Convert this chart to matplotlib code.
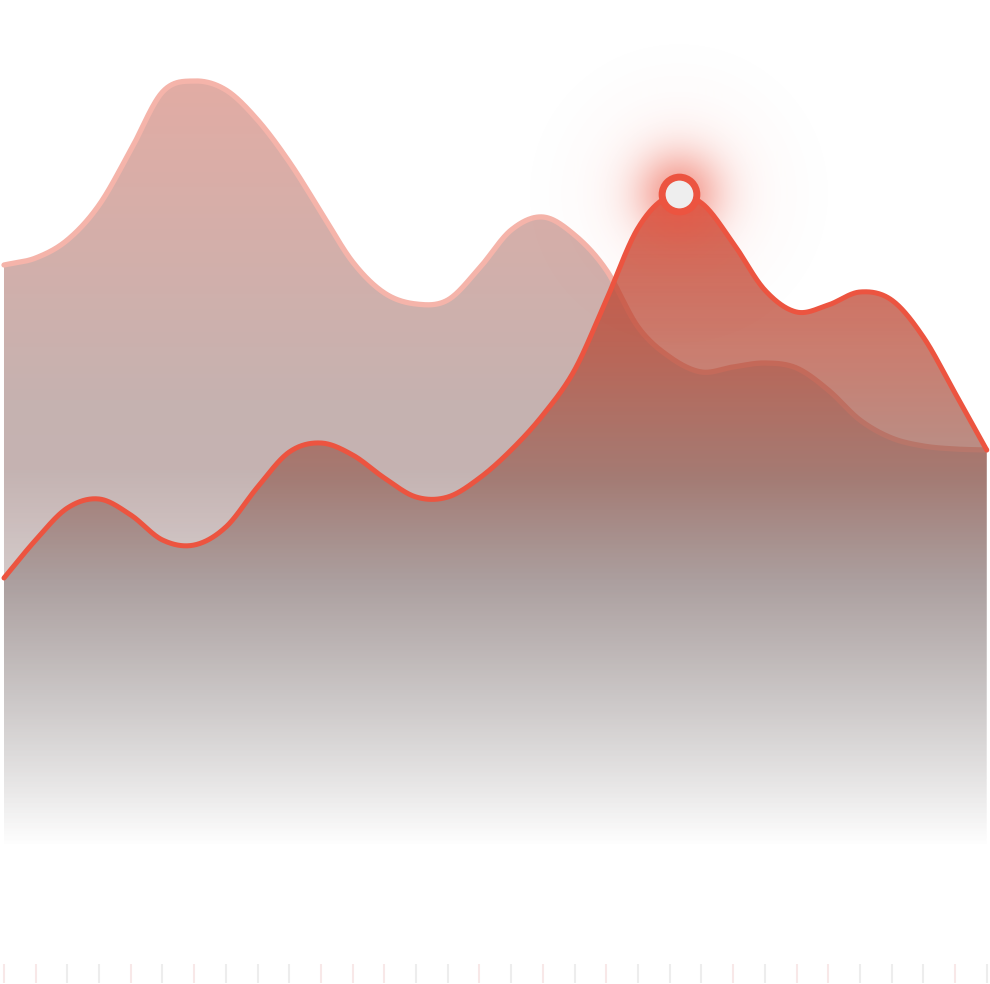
import numpy as np
import matplotlib
matplotlib.use("Agg")
import matplotlib.pyplot as plt
from matplotlib.path import Path
from matplotlib.patches import PathPatch

# values, one per category tick
categories = list(range(32))
back_values = [58.0, 58.7, 60.5, 64.0, 69.5, 75.3, 76.4, 75.5, 72.5, 68.3,
               63.3, 58.3, 55.2, 54.1, 54.5, 57.7, 61.5, 62.8, 61.0, 57.5,
               51.8, 48.8, 47.3, 47.8, 48.2, 47.7, 45.5, 42.5, 40.7, 39.9,
               39.6, 39.5]
front_values = [26.7, 30.5, 33.7, 34.6, 33.0, 30.5, 30.0, 31.8, 35.8, 39.3,
                40.2, 39.0, 36.7, 34.8, 34.8, 36.7, 39.5, 43.0, 47.5, 54.5,
                61.7, 64.9, 64.2, 60.2, 55.5, 53.3, 54.0, 55.3, 54.5, 50.8,
                45.2, 39.5]
# tick tint: 1 = pinkish, 0 = grey
tick_tint = [1, 1, 0, 0, 1, 0, 1, 0, 0, 0, 1, 1, 1, 0, 0, 1,
             0, 1, 0, 1, 0, 0, 0, 1, 0, 1, 1, 0, 0, 0, 1, 0]

W, H = 990, 984
XLIM = (-0.126, 31.104)
YLIM = (-13.9, 84.5)


def smooth(y, n=40):
    # cubic hermite (catmull-rom) through the points
    y = np.asarray(y, dtype=float)
    m = np.gradient(y)
    t = np.linspace(0, 1, n, endpoint=False)
    h00 = 2 * t**3 - 3 * t**2 + 1
    h10 = t**3 - 2 * t**2 + t
    h01 = -2 * t**3 + 3 * t**2
    h11 = t**3 - t**2
    xs, ys = [], []
    for i in range(len(y) - 1):
        xs.append(i + t)
        ys.append(h00 * y[i] + h10 * m[i] + h01 * y[i + 1] + h11 * m[i + 1])
    xs.append([len(y) - 1])
    ys.append([y[-1]])
    return np.concatenate(xs), np.concatenate(ys)


def gradient_image(stops):
    # stops: list of (pixel_row, r, g, b, a)
    rows = np.arange(H)
    st = np.array(stops, dtype=float)
    img = np.zeros((H, 1, 4))
    for k in range(4):
        img[:, 0, k] = np.interp(rows, st[:, 0], st[:, k + 1])
    img[:, :, :3] /= 255.0
    return img


def area(ax, x, y, stops, z):
    verts = np.column_stack([np.r_[x, x[-1], x[0], x[0]], np.r_[y, 0, 0, y[0]]])
    path = Path(verts, closed=True)
    patch = PathPatch(path, transform=ax.transData, facecolor="none", edgecolor="none")
    ax.add_patch(patch)
    im = ax.imshow(gradient_image(stops), extent=(XLIM[0], XLIM[1], YLIM[0], YLIM[1]),
                   origin="upper", aspect="auto", interpolation="bilinear", zorder=z)
    im.set_clip_path(patch)


fig = plt.figure(figsize=(W / 100, H / 100), dpi=100)
ax = fig.add_axes([0, 0, 1, 1])
ax.set_xlim(*XLIM)
ax.set_ylim(*YLIM)
ax.axis("off")

bx, by = smooth(back_values)
fx, fy = smooth(front_values)

# back series
area(ax, bx, by, [(80, 226, 172, 164, 1.0), (400, 198, 178, 176, 1.0),
                  (470, 197, 179, 178, 1.0), (845, 190, 185, 185, 0.0)], 1)
ax.plot(bx, by, color="#f5b4aa", lw=3.8, solid_capstyle="round", zorder=2)

# front series
area(ax, fx, fy, [(190, 215, 75, 55, 0.88), (350, 180, 70, 50, 0.7),
                  (480, 150, 100, 90, 0.7), (580, 145, 130, 130, 0.6),
                  (700, 155, 150, 150, 0.35), (845, 160, 160, 160, 0.0)], 3)

# glow around the highest point
k = int(np.argmax(fy))
px_x = (XLIM[1] - XLIM[0]) / W
px_y = (YLIM[1] - YLIM[0]) / H
R = 260
g = np.arange(-R, R + 1)
gx, gy = np.meshgrid(g, g)
r = np.hypot(gx, gy)
alpha = 0.5 * np.exp(-(r / 42) ** 2) + 0.07 * np.exp(-(r / 88) ** 2)
glow = np.zeros(r.shape + (4,))
glow[..., 0] = 236 / 255
glow[..., 1] = 84 / 255
glow[..., 2] = 64 / 255
glow[..., 3] = alpha
ax.imshow(glow, extent=(fx[k] - R * px_x, fx[k] + R * px_x, fy[k] - R * px_y, fy[k] + R * px_y),
          origin="upper", aspect="auto", interpolation="bilinear", zorder=4)

ax.plot(fx, fy, color="#ec5440", lw=3.6, solid_capstyle="round", zorder=5)
ax.plot([fx[k]], [fy[k]], "o", ms=25, mfc="#eeeeee", mec="#ec5440", mew=5, zorder=6)

# bottom ticks
tick_colors = ["#f8e8e8" if t else "#ededed" for t in tick_tint]
ax.vlines(categories, 0.001, 0.0205, colors=tick_colors, lw=1.5,
          transform=ax.get_xaxis_transform(), zorder=2)

ax.set_xlim(*XLIM)
ax.set_ylim(*YLIM)
fig.savefig("out.png", dpi=100, facecolor="white")
